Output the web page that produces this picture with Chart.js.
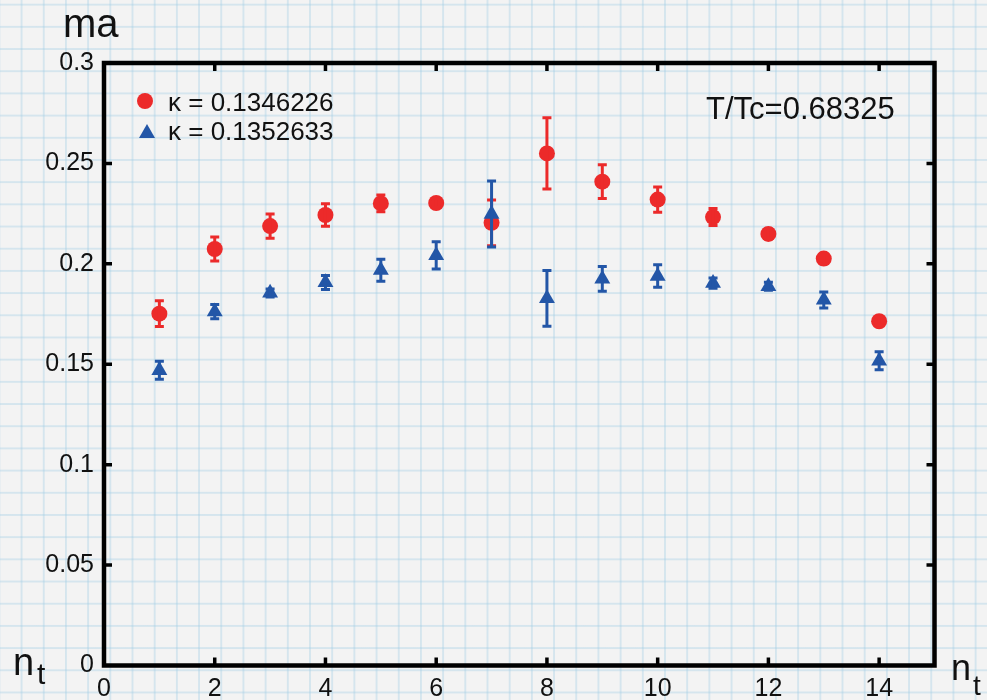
<!DOCTYPE html>
<html>
<head>
<meta charset="utf-8">
<script src="https://cdn.jsdelivr.net/npm/chart.js@4.4.0/dist/chart.umd.min.js"></script>
<style>
    html, body {
        margin: 0;
        padding: 0;
    }
    body {
        width: 987px;
        height: 700px;
        overflow: hidden;
        background-color: #f3f3f3;
        background-image:
            linear-gradient(to right, rgba(160, 205, 228, 0.36) 1.6px, transparent 1.6px),
            linear-gradient(to bottom, rgba(160, 205, 228, 0.36) 1.6px, transparent 1.6px);
        background-size: 22.2px 22.2px;
        background-position: 20.6px 3.7px;
        font-family: "Liberation Sans", Arial, Helvetica, sans-serif;
        color: #111;
    }
    #wrap {
        position: relative;
        width: 987px;
        height: 700px;
    }
    #chart {
        position: absolute;
        left: 0;
        top: 0;
    }
    .lbl {
        position: absolute;
        line-height: 1;
        white-space: nowrap;
    }
</style>
</head>
<body>
<div id="wrap">
    <canvas id="chart" width="987" height="700"></canvas>
</div>

<script>
// Data
const xValues = [1, 2, 3, 4, 5, 6, 7, 8, 9, 10, 11, 12, 13, 14];

const redLabel = 'κ = 0.1346226';
const redValues = [0.1752, 0.2074, 0.2188, 0.2243, 0.2301, 0.2303, 0.2204, 0.2550, 0.2409, 0.2320, 0.2233, 0.2149, 0.2026, 0.1714];
const redErrors = [0.0064, 0.0060, 0.0060, 0.0056, 0.0042, 0.0020, 0.0114, 0.0177, 0.0084, 0.0063, 0.0042, 0.0025, 0.0025, 0.0020];

const blueLabel = 'κ = 0.1352633';
const blueValues = [0.1470, 0.1762, 0.1855, 0.1907, 0.1968, 0.2042, 0.2248, 0.1828, 0.1925, 0.1939, 0.1904, 0.1888, 0.1820, 0.1517];
const blueErrors = [0.0045, 0.0035, 0.0020, 0.0035, 0.0055, 0.0068, 0.0164, 0.0139, 0.0062, 0.0056, 0.0025, 0.0020, 0.0040, 0.0045];

const xTicks = [0, 2, 4, 6, 8, 10, 12, 14];
const yTicks = [0, 0.05, 0.1, 0.15, 0.2, 0.25, 0.3];

const RED = '#ec2a2a';
const BLUE = '#2356a7';

// Error bars drawn right after their own dataset
const errorBarPlugin = {
    id: 'errorBars',
    afterDatasetDraw(chart, args) {
        const ds = chart.data.datasets[args.index];
        if (!ds.errors) return;
        const { ctx, scales: { x, y } } = chart;
        ctx.save();
        ctx.strokeStyle = ds.backgroundColor;
        ctx.lineWidth = 3;
        ds.data.forEach((p, i) => {
            const px = x.getPixelForValue(p.x);
            const top = y.getPixelForValue(p.y + ds.errors[i]);
            const bottom = y.getPixelForValue(p.y - ds.errors[i]);
            ctx.beginPath();
            ctx.moveTo(px, top);
            ctx.lineTo(px, bottom);
            ctx.moveTo(px - 4.5, top);
            ctx.lineTo(px + 4.5, top);
            ctx.moveTo(px - 4.5, bottom);
            ctx.lineTo(px + 4.5, bottom);
            ctx.stroke();
        });
        ctx.restore();
    }
};

// Closed black frame with inward ticks on all four sides
const framePlugin = {
    id: 'frame',
    afterDraw(chart) {
        const { ctx, chartArea: a, scales: { x, y } } = chart;
        ctx.save();
        ctx.strokeStyle = '#000';
        ctx.lineWidth = 3.5;
        xTicks.forEach(v => {
            if (v === 0) return;
            const px = x.getPixelForValue(v);
            ctx.beginPath();
            ctx.moveTo(px, a.bottom);
            ctx.lineTo(px, a.bottom - 8);
            ctx.moveTo(px, a.top);
            ctx.lineTo(px, a.top + 8);
            ctx.stroke();
        });
        yTicks.forEach(v => {
            if (v === 0 || v === 0.3) return;
            const py = y.getPixelForValue(v);
            ctx.beginPath();
            ctx.moveTo(a.left, py);
            ctx.lineTo(a.left + 8, py);
            ctx.moveTo(a.right, py);
            ctx.lineTo(a.right - 8, py);
            ctx.stroke();
        });
        ctx.lineWidth = 4.5;
        ctx.strokeRect(a.left, a.top, a.right - a.left, a.bottom - a.top);
        ctx.restore();
    }
};

function toPoints(values) {
    return xValues.map((x, i) => ({ x: x, y: values[i] }));
}

const tickFont = { family: '"Liberation Sans", Arial, sans-serif', size: 25 };

new Chart(document.getElementById('chart'), {
    type: 'scatter',
    data: {
        datasets: [{
            label: redLabel,
            data: toPoints(redValues),
            errors: redErrors,
            backgroundColor: RED,
            borderColor: RED,
            borderWidth: 0,
            pointStyle: 'circle',
            pointRadius: 8,
            order: 2
        }, {
            label: blueLabel,
            data: toPoints(blueValues),
            errors: blueErrors,
            backgroundColor: BLUE,
            borderColor: BLUE,
            borderWidth: 0,
            pointStyle: 'triangle',
            pointRadius: 9.2,
            order: 1
        }]
    },
    options: {
        responsive: false,
        animation: false,
        events: [],
        layout: {
            padding: { top: 63, right: 52.5, left: 0, bottom: 0 }
        },
        plugins: {
            legend: { display: false },
            tooltip: { enabled: false }
        },
        scales: {
            x: {
                type: 'linear',
                min: 0,
                max: 15,
                afterBuildTicks: scale => {
                    scale.ticks = xTicks.map(v => ({ value: v }));
                },
                afterFit: scale => {
                    scale.height = 34.5;
                },
                grid: { display: false, drawTicks: false },
                border: { display: false },
                ticks: {
                    color: '#111',
                    font: tickFont,
                    padding: 9,
                    maxRotation: 0,
                    autoSkip: false
                }
            },
            y: {
                min: 0,
                max: 0.3,
                afterBuildTicks: scale => {
                    scale.ticks = yTicks.map(v => ({ value: v }));
                },
                afterFit: scale => {
                    scale.width = 104;
                },
                grid: { display: false, drawTicks: false },
                border: { display: false },
                ticks: {
                    color: '#111',
                    font: tickFont,
                    padding: 10,
                    autoSkip: false,
                    callback: v => String(+v.toFixed(2))
                }
            }
        }
    },
    plugins: [errorBarPlugin, framePlugin]
});

// Text annotations placed by baseline (line-height 1, Liberation Sans metrics)
const wrap = document.getElementById('wrap');
function addText(html, left, baseline, size) {
    const el = document.createElement('div');
    el.className = 'lbl';
    el.style.left = left + 'px';
    el.style.top = (baseline - 0.8465 * size) + 'px';
    el.style.fontSize = size + 'px';
    el.innerHTML = html;
    wrap.appendChild(el);
}

addText('ma', 63, 37, 40);
addText('n', 13, 675, 38);
addText('t', 37, 684, 30);
addText('n', 951, 680, 36);
addText('t', 973, 696, 28);
addText('T/Tc=0.68325', 706, 119, 31);

// Legend
addText('<svg width="18" height="18" style="position:absolute;left:-32px;top:3px"><circle cx="9" cy="9" r="8" fill="' + RED + '"/></svg>' + redLabel, 168, 111, 26);
addText('<svg width="20" height="18" style="position:absolute;left:-31px;top:5px"><polygon points="10,1 18,15 2,15" fill="' + BLUE + '"/></svg>' + blueLabel, 168, 140, 26);
</script>
</body>
</html>
